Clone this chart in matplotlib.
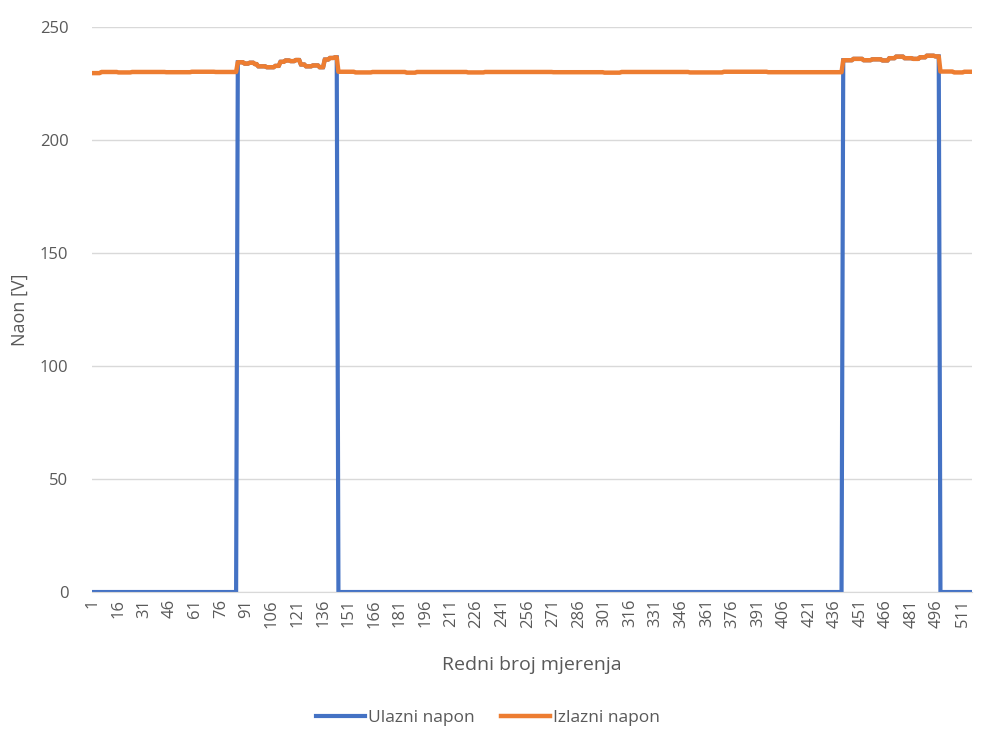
import numpy as np
import matplotlib
matplotlib.use('Agg')
import matplotlib.pyplot as plt

plt.rcParams['font.family'] = ['Open Sans', 'DejaVu Sans']

# number of measurements
n_points = 516

# output voltage as (value [V], number of samples) runs
izlazni_runs = [
    # 1 - 85
    (229.6, 5), (230.1, 10), (229.9, 8), (230.1, 20), (230.0, 15), (230.2, 14), (230.1, 13),
    # 86 - 144
    (234.4, 4), (233.8, 3), (234.2, 3), (233.6, 2),
    (232.6, 5), (232.2, 5), (232.8, 3),
    (234.6, 3), (235.2, 3), (234.9, 3), (235.4, 3),
    (233.4, 3), (232.6, 4), (233.0, 4), (232.2, 3),
    (235.6, 3), (236.3, 3), (236.6, 2),
    # 145 - 440
    (230.2, 10), (229.9, 10), (230.1, 20), (229.8, 6), (230.1, 30), (229.9, 10), (230.1, 40),
    (230.0, 30), (229.8, 10), (230.1, 40), (229.9, 20), (230.2, 26), (230.0, 44),
    # 441 - 497
    (235.3, 6), (235.9, 6), (235.3, 5), (235.7, 6), (235.2, 4), (236.2, 4),
    (236.9, 5), (236.2, 5), (235.9, 4), (236.6, 4), (237.3, 5), (237.0, 3),
    # 498 - 516
    (230.3, 8), (229.9, 6), (230.2, 5),
]

# input voltage: 0 V outside these measurement ranges (first, last)
ulazni_on = [(86, 144), (441, 497)]

x_vals = np.arange(1, n_points + 1)
izlazni = np.concatenate([np.full(c, v) for v, c in izlazni_runs])
ulazni = np.zeros(n_points)
for first, last in ulazni_on:
    ulazni[first - 1:last] = izlazni[first - 1:last]

tick_vals = list(range(1, 512, 15))

fig = plt.figure(figsize=(9.85, 7.46), dpi=100)
ax = fig.add_axes([0.0934, 0.2064, 0.8934, 0.7574])

ax.plot(x_vals, ulazni, color='#4472C4', lw=3.0, label='Ulazni napon', solid_joinstyle='miter')
ax.plot(x_vals, izlazni, color='#ED7D31', lw=3.2, label='Izlazni napon')

ax.set_xlim(0.5, n_points + 0.5)
ax.set_ylim(0, 250)
ax.set_yticks(range(0, 251, 50))
ax.set_xticks(tick_vals)
ax.set_xticklabels([str(t) for t in tick_vals], rotation=90)
ax.grid(axis='y', color='#D9D9D9', lw=1)
ax.set_axisbelow(True)
for side in ['top', 'right', 'left']:
    ax.spines[side].set_visible(False)
ax.spines['bottom'].set_color('#D9D9D9')
ax.tick_params(axis='both', length=0, labelsize=12, colors='#595959')
ax.tick_params(axis='x', pad=5)
ax.tick_params(axis='y', pad=17)

ax.set_xlabel('Redni broj mjerenja', fontsize=14, color='#595959', labelpad=20)
ax.set_ylabel('Naon [V]', fontsize=13, color='#595959', labelpad=8)

ax.legend(loc='center', bbox_to_anchor=(0.45, -0.223), ncol=2, frameon=False,
          fontsize=12.5, labelcolor='#595959', handlelength=2.8, handletextpad=0.2,
          columnspacing=1.5)

fig.savefig('out.png', dpi=100)
